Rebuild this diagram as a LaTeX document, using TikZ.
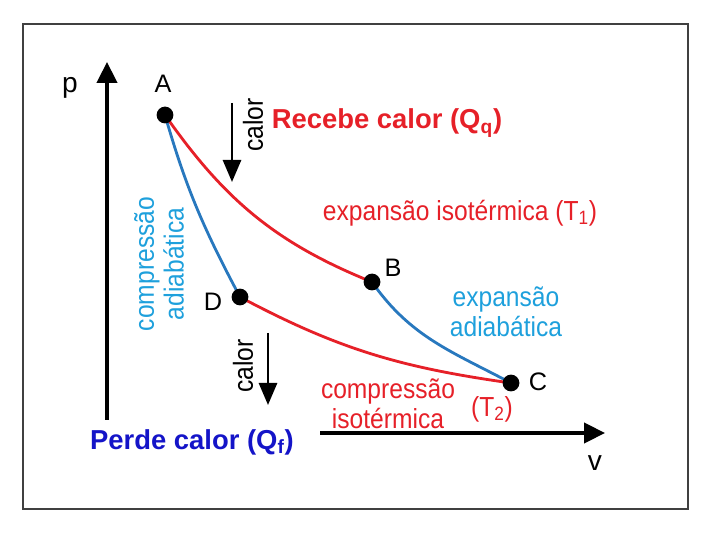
\documentclass[tikz,border=0pt]{standalone}
\usepackage{fontspec}
\setmainfont{Liberation Sans}
\usepackage{tikz}
\usetikzlibrary{arrows.meta}
\definecolor{vermelho}{RGB}{230,32,40}
\definecolor{azulclaro}{RGB}{30,160,220}
\definecolor{azulcurva}{RGB}{40,120,190}
\definecolor{azulescuro}{RGB}{20,20,200}
\tikzset{
  eixo/.style={line width=2.6pt, -{Triangle[width=0.5cm,length=0.52cm]}},
  seta/.style={line width=2pt, -{Triangle[width=0.45cm,length=0.55cm]}},
  isoterma/.style={vermelho, line width=2pt},
  adiabata/.style={azulcurva, line width=2pt},
  ponto/.style={circle, fill=black, inner sep=0pt, minimum size=0.42cm},
  letra/.style={font=\fontsize{18}{20}\selectfont},
  texto/.style={font=\fontsize{17.5}{19}\selectfont, align=center, yscale=1.12},
  titulo/.style={font=\fontsize{19.5}{22}\selectfont\bfseries}
}

\begin{document}
\begin{tikzpicture}
     \useasboundingbox (0,0) rectangle (18,13.5);
     \draw [black!75, line width=1.8pt] (0.575,0.775) rectangle (17.2,12.9);
     % eixos
     \coordinate (pbase) at (2.675,3.0);
     \coordinate (ptopo) at (2.675,11.95);
     \coordinate (vbase) at (8.0,2.675);
     \coordinate (vfim) at (15.125,2.675);
     \draw [eixo] (pbase) -- (ptopo);
     \draw [eixo] (vbase) -- (vfim);
     \node [letra, font=\fontsize{20}{22}\selectfont] (p) at (1.75,11.3) {p};
     \node [letra, font=\fontsize{20}{22}\selectfont] (v) at (14.875,1.925) {v};
     % estados
     \coordinate (A) at (4.125,10.625);
     \coordinate (B) at (9.3,6.45);
     \coordinate (C) at (12.775,3.925);
     \coordinate (D) at (6.0,6.075);
     \draw [isoterma] (A) to[out=-55,in=158] (B);
     \draw [adiabata] (B) to[out=-55,in=152] (C);
     \draw [isoterma] (D) to[out=-28,in=172] (C);
     \draw [adiabata] (A) to[out=-74,in=118] (D);
     \foreach \s in {A,B,C,D}
       \node [ponto] (pt\s) at (\s) {};
     \node [letra] (labA) at (4.075,11.4) {A};
     \node [letra] (labB) at (9.825,6.8) {B};
     \node [letra] (labC) at (13.45,3.95) {C};
     \node [letra] (labD) at (5.325,5.95) {D};
     % calor
     \coordinate (c1a) at (5.8,10.925);
     \coordinate (c1b) at (5.8,8.95);
     \coordinate (c2a) at (6.7,5.175);
     \coordinate (c2b) at (6.7,3.375);
     \draw [seta] (c1a) -- (c1b);
     \draw [seta] (c2a) -- (c2b);
     \node [rotate=90, texto] (calor1) at (6.325,10.375) {calor};
     \node [rotate=90, texto] (calor2) at (6.075,4.35) {calor};
     % textos
     \node [titulo, vermelho] (recebe) at (9.675,10.425) {Recebe calor (Q\textsubscript{q})};
     \node [titulo, azulescuro] (perde) at (4.8,2.45) {Perde calor (Q\textsubscript{f})};
     \node [texto, vermelho] (expiso) at (11.5,8.175) {expansão isotérmica (T\textsubscript{1})};
     \node [texto, azulclaro] (expadi) at (12.65,5.7) {expansão\\adiabática};
     \node [rotate=90, texto, azulclaro] (compadi) at (3.975,6.9) {compressão\\adiabática};
     \node [texto, vermelho] (compiso) at (9.7,3.4) {compressão\\isotérmica};
     \node [texto, vermelho] (t2) at (12.3,3.275) {(T\textsubscript{2})};
 \end{tikzpicture}
\end{document}
